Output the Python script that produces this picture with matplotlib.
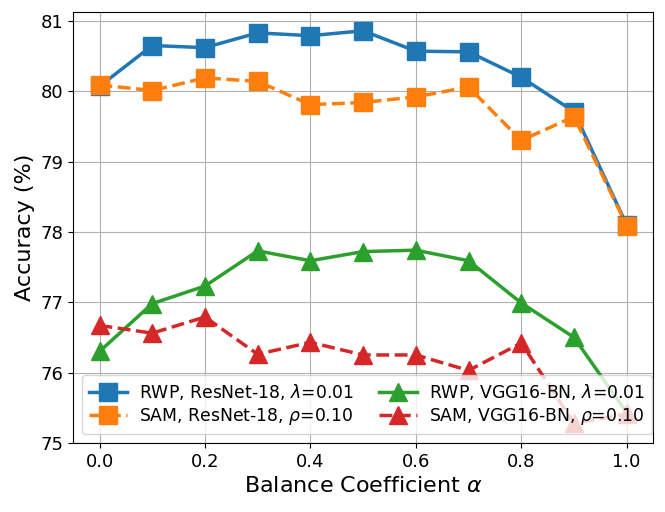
import numpy as np
import matplotlib
matplotlib.use("Agg")
import matplotlib.pyplot as plt

alpha = [0.0, 0.1, 0.2, 0.3, 0.4, 0.5, 0.6, 0.7, 0.8, 0.9, 1.0]

rwp_resnet = [80.07, 80.65, 80.62, 80.83, 80.79, 80.86, 80.57, 80.56, 80.20, 79.71, 78.10]
sam_resnet = [80.09, 80.01, 80.19, 80.14, 79.81, 79.84, 79.92, 80.06, 79.30, 79.64, 78.09]
rwp_vgg = [76.30, 76.98, 77.23, 77.73, 77.59, 77.72, 77.74, 77.59, 76.99, 76.50, 75.43]
sam_vgg = [76.67, 76.56, 76.79, 76.26, 76.43, 76.25, 76.25, 76.03, 76.42, 75.28, 75.41]

labels = [
    r"RWP, ResNet-18, $\lambda$=0.01",
    r"SAM, ResNet-18, $\rho$=0.10",
    r"RWP, VGG16-BN, $\lambda$=0.01",
    r"SAM, VGG16-BN, $\rho$=0.10",
]

fig = plt.figure(figsize=(6.65, 5.12), dpi=100)
ax = fig.add_axes([0.110, 0.135, 0.872, 0.842])

ms = 12.5
lw = 2.5
ax.plot(alpha, rwp_resnet, "s-", color="#1f77b4", ms=ms, lw=lw, label=labels[0])
ax.plot(alpha, sam_resnet, "s--", color="#ff7f0e", ms=ms, lw=lw, label=labels[1])
ax.plot(alpha, rwp_vgg, "^-", color="#2ca02c", ms=ms, lw=lw, label=labels[2])
ax.plot(alpha, sam_vgg, "^--", color="#d62728", ms=ms, lw=lw, label=labels[3])

ax.set_xlim(-0.05, 1.05)
ax.set_ylim(75, 81.13)
ax.set_xticks([0.0, 0.2, 0.4, 0.6, 0.8, 1.0])
ax.set_yticks([75, 76, 77, 78, 79, 80, 81])
ax.tick_params(labelsize=13)
ax.grid(True)

ax.set_xlabel(r"Balance Coefficient $\alpha$", fontsize=16)
ax.set_ylabel("Accuracy (%)", fontsize=16)

ax.legend(ncol=2, loc="lower left", fontsize=12.4, handlelength=2.2,
          labelspacing=0.25, handletextpad=0.7, columnspacing=1.5)

fig.savefig("out.png", dpi=100)
